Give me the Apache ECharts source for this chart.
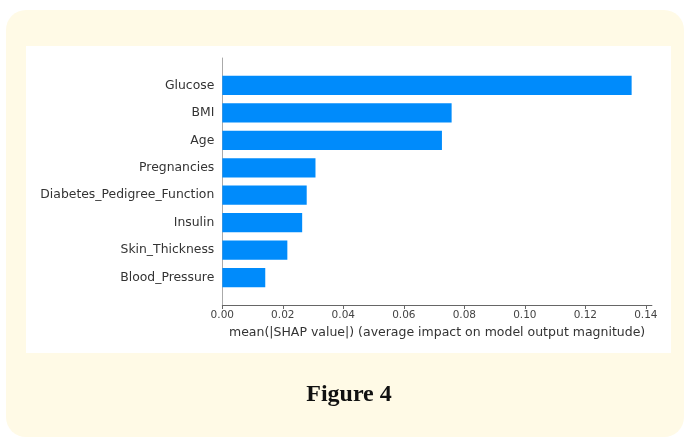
<!DOCTYPE html>
<html>
<head>
<meta charset="utf-8">
<script src="https://cdn.jsdelivr.net/npm/echarts@6/dist/echarts.min.js"></script>
<style>
  html, body { margin: 0; padding: 0; background: #ffffff; }
  #chart { width: 688px; height: 438px; }
</style>
</head>
<body>
<div id="chart"></div>
<script>
// Feature names, top to bottom as listed on the chart
const features = [
  'Glucose', 'BMI', 'Age', 'Pregnancies',
  'Diabetes_Pedigree_Function', 'Insulin', 'Skin_Thickness', 'Blood_Pressure'
];
// mean(|SHAP value|) for each feature
const shapValues = [0.1353, 0.0758, 0.0726, 0.0308, 0.0279, 0.0264, 0.0215, 0.0142];
// x-axis tick positions
const xTicks = [0, 0.02, 0.04, 0.06, 0.08, 0.10, 0.12, 0.14];
const xMax = 0.142;
const figureCaption = 'Figure 4';
const xAxisTitle = 'mean(|SHAP value|) (average impact on model output magnitude)';

// Category axis runs bottom-up; pad one empty slot at each end so the
// axis extends one full step beyond the outermost bars.
const yCats = [''].concat(features.slice().reverse(), ['']);
const barData = ['-'].concat(shapValues.slice().reverse(), ['-']);

const chart = echarts.init(document.getElementById('chart'), null, { renderer: 'canvas' });

const option = {
  backgroundColor: '#ffffff',
  animation: false,
  graphic: [
    {
      type: 'rect', z: -100, silent: true,
      shape: { x: 6, y: 10, width: 678, height: 427, r: 20 },
      style: { fill: '#fffae6' }
    },
    {
      type: 'rect', z: -90, silent: true,
      shape: { x: 26, y: 46, width: 645, height: 307 },
      style: { fill: '#ffffff' }
    },
    {
      type: 'text', z: 10, silent: true,
      x: 349, y: 395,
      style: {
        text: figureCaption,
        fontFamily: 'Liberation Serif',
        fontWeight: 'bold',
        fontSize: 24,
        fill: '#111111',
        align: 'center',
        verticalAlign: 'middle'
      }
    }
  ],
  grid: {
    left: 222.3,
    right: 36.1,
    top: 58,
    bottom: 133,
    containLabel: false
  },
  xAxis: {
    type: 'value',
    min: 0,
    max: xMax,
    splitLine: { show: false },
    axisLine: { show: true, lineStyle: { color: '#666666', width: 1 } },
    axisTick: {
      show: true, length: 4, inside: false,
      customValues: xTicks,
      lineStyle: { color: '#666666', width: 1 }
    },
    axisLabel: {
      customValues: xTicks,
      margin: 5,
      fontFamily: 'DejaVu Sans',
      fontSize: 10.5,
      color: '#444444',
      formatter: function (v) { return v.toFixed(2); }
    },
    name: xAxisTitle,
    nameLocation: 'middle',
    nameGap: 19,
    nameTextStyle: {
      fontFamily: 'DejaVu Sans',
      fontSize: 12.5,
      color: '#333333'
    }
  },
  yAxis: {
    type: 'category',
    data: yCats,
    boundaryGap: false,
    axisLine: { show: true, lineStyle: { color: '#aaaaaa', width: 1 } },
    axisTick: { show: false },
    splitLine: { show: false },
    axisLabel: {
      interval: 0,
      margin: 8,
      fontFamily: 'DejaVu Sans',
      fontSize: 12.4,
      color: '#333333'
    }
  },
  series: [
    {
      type: 'bar',
      data: barData,
      barWidth: '70%',
      z: 5,
      itemStyle: { color: '#008bfb' }
    }
  ]
};

chart.setOption(option);
</script>
</body>
</html>
